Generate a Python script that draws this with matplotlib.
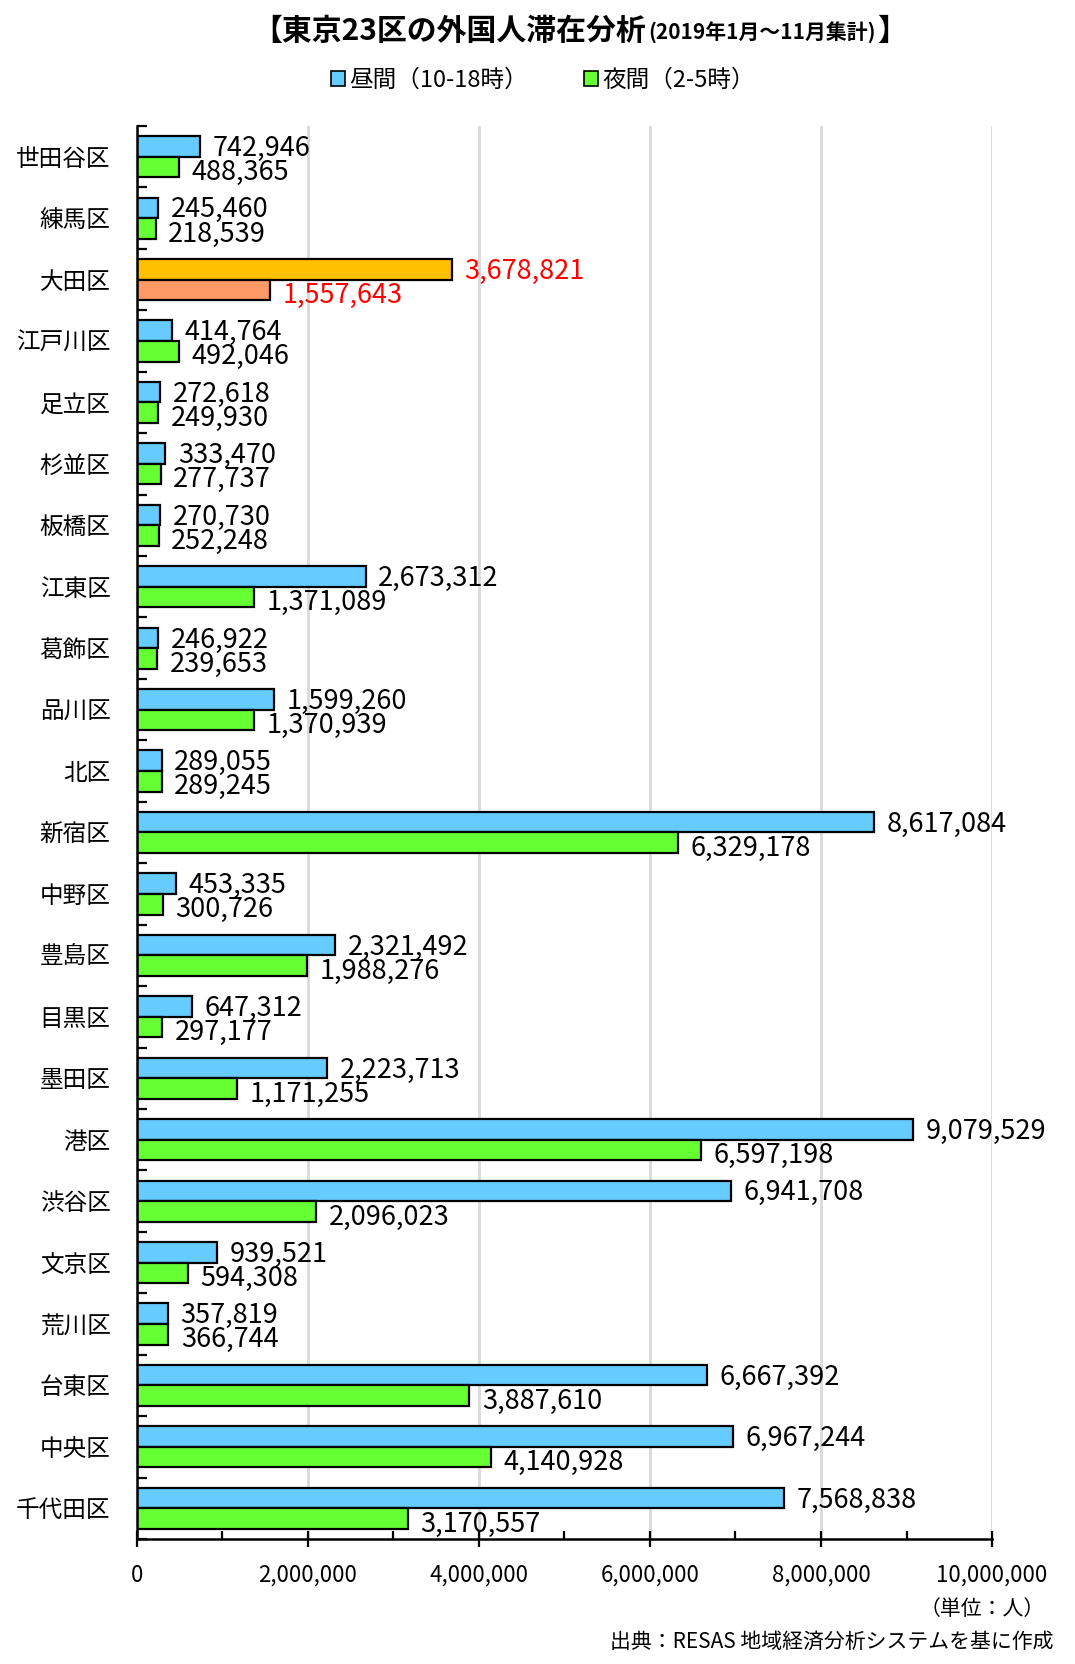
import numpy as np
import matplotlib
matplotlib.use("Agg")
import matplotlib.pyplot as plt
from matplotlib.patches import Patch
from matplotlib.ticker import MultipleLocator, FuncFormatter

plt.rcParams['font.family'] = ['Noto Sans CJK JP', 'DejaVu Sans']

# データ（上から順）
wards = ["世田谷区", "練馬区", "大田区", "江戸川区", "足立区", "杉並区", "板橋区",
         "江東区", "葛飾区", "品川区", "北区", "新宿区", "中野区", "豊島区",
         "目黒区", "墨田区", "港区", "渋谷区", "文京区", "荒川区", "台東区",
         "中央区", "千代田区"]
daytime = [742946, 245460, 3678821, 414764, 272618, 333470, 270730,
           2673312, 246922, 1599260, 289055, 8617084, 453335, 2321492,
           647312, 2223713, 9079529, 6941708, 939521, 357819, 6667392,
           6967244, 7568838]
night = [488365, 218539, 1557643, 492046, 249930, 277737, 252248,
         1371089, 239653, 1370939, 289245, 6329178, 300726, 1988276,
         297177, 1171255, 6597198, 2096023, 594308, 366744, 3887610,
         4140928, 3170557]
highlight = "大田区"

c_day, c_night = "#66CCFF", "#66FF33"
c_day_hl, c_night_hl = "#FFC000", "#FF9966"

fig = plt.figure(figsize=(10.75, 16.64), dpi=100)
ax = fig.add_axes([0.1274, 0.0751, 0.7954, 0.8492])

y = np.arange(len(wards))
h = 0.335
day_colors = [c_day_hl if w == highlight else c_day for w in wards]
night_colors = [c_night_hl if w == highlight else c_night for w in wards]
ax.barh(y - h / 2, daytime, height=h, color=day_colors, edgecolor="black", linewidth=1.6, zorder=3)
ax.barh(y + h / 2, night, height=h, color=night_colors, edgecolor="black", linewidth=1.6, zorder=3)

# 値ラベル
for i, w in enumerate(wards):
    col = "red" if w == highlight else "black"
    ax.annotate(f"{daytime[i]:,}", (daytime[i], y[i] - h / 2), xytext=(9, -1.5),
                textcoords="offset points", va="center", ha="left", fontsize=19.5, color=col, zorder=4)
    ax.annotate(f"{night[i]:,}", (night[i], y[i] + h / 2), xytext=(9, -4),
                textcoords="offset points", va="center", ha="left", fontsize=19.5, color=col, zorder=4)

ax.set_xlim(0, 10000000)
ax.set_ylim(len(wards) - 0.5, -0.5)

ax.xaxis.set_major_locator(MultipleLocator(2000000))
ax.xaxis.set_minor_locator(MultipleLocator(1000000))
ax.xaxis.set_major_formatter(FuncFormatter(lambda v, p: f"{int(v):,}"))
ax.tick_params(axis="x", which="major", direction="inout", length=12, width=1.6, pad=12, labelsize=16)
ax.tick_params(axis="x", which="minor", direction="in", length=6, width=1.6)

ax.set_yticks(y)
ax.set_yticklabels(wards, fontsize=17)
ax.set_yticks(np.arange(len(wards) + 1) - 0.5, minor=True)
ax.tick_params(axis="y", which="major", length=0, pad=19)
ax.tick_params(axis="y", which="minor", direction="in", length=7, width=1.6)

ax.grid(axis="x", color="#D9D9D9", linewidth=2, zorder=0)
for s in ["top", "right"]:
    ax.spines[s].set_visible(False)
for s in ["left", "bottom"]:
    ax.spines[s].set_linewidth(1.8)
    ax.spines[s].set_zorder(5)

# タイトル（大きさの違う3つの部分を横に並べる）
fig.canvas.draw()
renderer = fig.canvas.get_renderer()
base_y = 1664 - 40
t1 = fig.text(252, base_y, "【東京23区の外国人滞在分析", fontsize=21.5, weight="bold",
              va="baseline", ha="left", transform=None)
x1 = t1.get_window_extent(renderer).x1
t2 = fig.text(x1 + 2, base_y, "(2019年1月～11月集計)", fontsize=15, weight="bold",
              va="baseline", ha="left", transform=None)
x2 = t2.get_window_extent(renderer).x1
fig.text(x2 + 2, base_y, "】", fontsize=21.5, weight="bold", va="baseline", ha="left", transform=None)

# 凡例
handles = [Patch(facecolor=c_day, edgecolor="black", linewidth=1.2, label="昼間（10-18時）"),
           Patch(facecolor=c_night, edgecolor="black", linewidth=1.2, label="夜間（2-5時）")]
fig.legend(handles=handles, loc="center", bbox_to_anchor=(0.505, 0.952), ncol=2, frameon=False,
           fontsize=17, handlelength=0.6, handleheight=0.6, handletextpad=0.15, columnspacing=2.4)

# 注記
fig.text(0.972, 0.033, "（単位：人）", fontsize=15, ha="right", va="center")
fig.text(0.98, 0.0135, "出典：RESAS 地域経済分析システムを基に作成", fontsize=15, ha="right", va="center")

fig.savefig("out.png", dpi=100)
